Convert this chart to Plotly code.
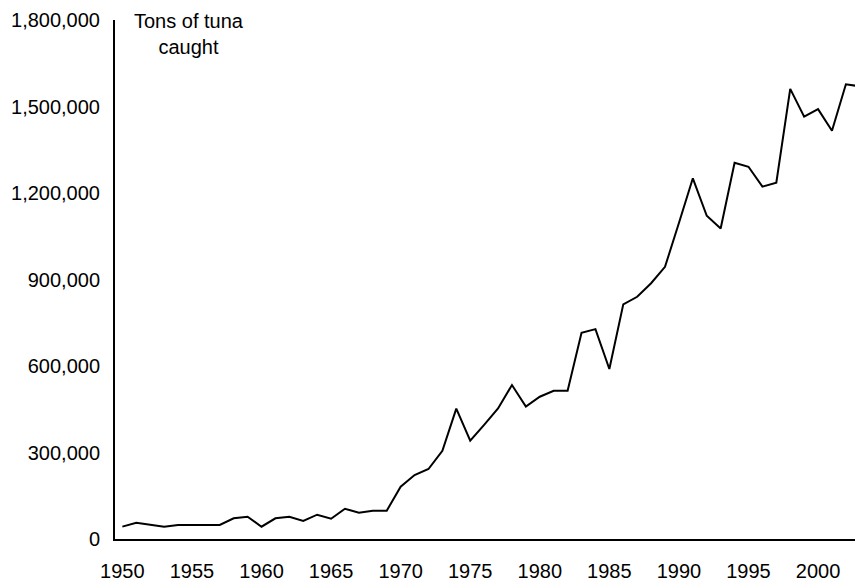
import plotly.graph_objects as go

years = list(range(1950, 2004))
tons = [43000, 56500, 49600, 42700, 48600, 48600, 48600, 48600, 71700, 77400,
        42700, 71700, 77400, 62400, 84300, 70400, 105000, 91200, 98100, 98100,
        181400, 222000, 242800, 306000, 452000, 341000, 396000, 453000, 534000, 459000,
        493500, 514000, 514000, 715000, 728000, 589600, 814000, 840000, 887000, 944000,
        1096000, 1251000, 1121000, 1077000, 1305000, 1291000, 1222000, 1236000, 1561000, 1465000,
        1491000, 1416000, 1577000, 1570000]

y_ticks = [0, 300000, 600000, 900000, 1200000, 1500000, 1800000]
x_ticks = list(range(1950, 2001, 5))

font = dict(family="Liberation Sans, Arial, sans-serif", size=20, color="black")

fig = go.Figure()
fig.add_trace(go.Scatter(x=years, y=tons, mode="lines",
                         line=dict(color="black", width=2), showlegend=False))

fig.update_layout(
    width=855, height=573,
    margin=dict(l=107, r=0, t=12, b=42),
    paper_bgcolor="white", plot_bgcolor="white",
    font=font,
    xaxis=dict(range=[1949.47, 2003.23], tickvals=x_ticks, showgrid=False, zeroline=False,
               showline=True, linecolor="black", linewidth=2, ticks="", ticklabelstandoff=13),
    yaxis=dict(range=[0, 1800000], tickvals=y_ticks, tickformat=",", showgrid=False,
               zeroline=False, showline=True, linecolor="black", linewidth=2, ticks="",
               ticklabelstandoff=9),
    annotations=[dict(text="Tons of tuna<br>caught", xref="paper", yref="paper",
                      x=0.099, y=0.973, xanchor="center", yanchor="middle",
                      showarrow=False, align="center", font=font)],
)

fig.write_html("out.html")
